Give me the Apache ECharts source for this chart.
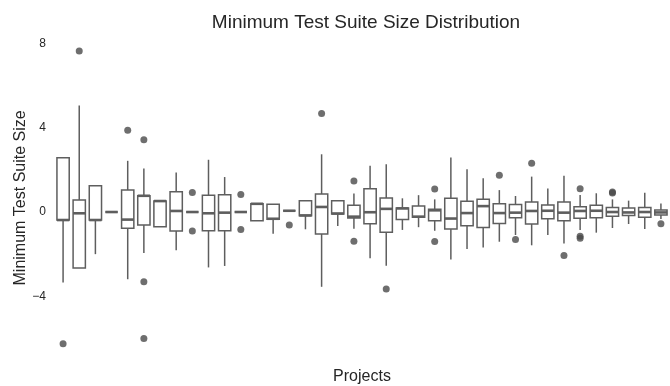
<!DOCTYPE html>
<html>
<head>
<meta charset="utf-8">
<script src="https://cdn.jsdelivr.net/npm/echarts@6/dist/echarts.min.js"></script>
<style>
  html, body { margin: 0; padding: 0; background: #fff; }
  #chart { width: 670px; height: 386px; }
</style>
</head>
<body>
<div id="chart"></div>
<script>
// 每个项目一个箱线，x 轴不显示项目名
const projects = [
  "P01", "P02", "P03", "P04", "P05", "P06", "P07", "P08", "P09", "P10",
  "P11", "P12", "P13", "P14", "P15", "P16", "P17", "P18", "P19", "P20",
  "P21", "P22", "P23", "P24", "P25", "P26", "P27", "P28", "P29", "P30",
  "P31", "P32", "P33", "P34", "P35", "P36", "P37", "P38"
];

// 箱线统计量
const lowWhisker = [
  -3.34, -2.66, -2.0, 0, -3.19, -1.95, -0.70, -1.82, 0, -2.63,
  -2.56, 0, -0.42, -1.03, 0.06, -0.82, -3.55, -0.66, -0.80, -2.2,
  -2.55, -0.85, -0.72, -0.89, -2.25, -1.76, -1.69, -1.41, -1.09, -1.58,
  -1.09, -1.49, -0.85, -0.98, -0.76, -0.57, -0.81, -0.33
];
const q1 = [
  -0.38, -2.66, -0.38, 0, -0.77, -0.62, -0.70, -0.90, 0, -0.89,
  -0.89, 0, -0.42, -0.34, 0.06, -0.18, -1.04, -0.10, -0.28, -0.56,
  -0.96, -0.36, -0.25, -0.41, -0.81, -0.65, -0.73, -0.54, -0.27, -0.57,
  -0.32, -0.41, -0.30, -0.27, -0.20, -0.17, -0.25, -0.14
];
const median = [
  -0.38, -0.06, -0.38, 0, -0.36, 0.77, 0.52, 0.05, 0, -0.06,
  -0.03, 0, 0.39, -0.32, 0.06, -0.16, 0.24, -0.07, -0.22, -0.01,
  0.15, 0.17, -0.22, 0.08, -0.31, -0.05, 0.28, -0.05, -0.03, 0.05,
  0.06, -0.03, 0.05, 0.06, 0.0, -0.02, 0.0, -0.02
];
const q3 = [
  2.58, 0.57, 1.25, 0, 1.04, 0.77, 0.52, 0.96, 0, 0.80,
  0.82, 0, 0.39, 0.37, 0.06, 0.54, 0.85, 0.54, 0.32, 1.11,
  0.66, 0.19, 0.28, 0.13, 0.65, 0.51, 0.60, 0.39, 0.36, 0.47,
  0.33, 0.47, 0.25, 0.32, 0.22, 0.19, 0.22, 0.09
];
const highWhisker = [
  2.58, 5.06, 1.25, 0, 2.43, 2.06, 0.52, 1.88, 0, 2.48,
  1.66, 0, 0.39, 0.37, 0.06, 0.54, 2.74, 0.54, 0.88, 2.2,
  2.27, 0.65, 0.80, 0.60, 2.59, 2.03, 1.60, 1.04, 0.76, 1.68,
  1.12, 1.72, 0.81, 0.89, 0.60, 0.54, 0.92, 0.41
];
// 离群点 [项目序号, 值]
const outliers = [
  [0, -6.25], [1, 7.64], [4, 3.88], [5, 3.43], [5, -3.31], [5, -6.0],
  [8, 0.93], [8, -0.90], [11, 0.83], [11, -0.83], [14, -0.62], [16, 4.67],
  [18, 1.47], [18, -1.39], [20, -3.65], [23, 1.09], [23, -1.40], [27, 1.74],
  [28, -1.3], [29, 2.31], [31, -2.06], [32, 1.11], [32, -1.15], [32, -1.25],
  [34, 0.90], [34, 0.95], [37, -0.56]
];
const yTicks = [-4, 0, 4, 8];

const LINE = "#5e5e5e";
const TEXT = "#262626";
const FONT = "Liberation Sans, Arial, sans-serif";

const boxRows = projects.map((p, i) => [i, lowWhisker[i], q1[i], median[i], q3[i], highWhisker[i]]);

function renderBox(params, api) {
  const i = api.value(0);
  const band = api.size([1, 0])[0];
  const w = band * 0.76;
  const x = api.coord([i, 0])[0];
  const yLw = api.coord([i, api.value(1)])[1];
  const yQ1 = api.coord([i, api.value(2)])[1];
  const yMed = api.coord([i, api.value(3)])[1];
  const yQ3 = api.coord([i, api.value(4)])[1];
  const yHw = api.coord([i, api.value(5)])[1];
  const lineStyle = { stroke: LINE, lineWidth: 1.5, fill: null };
  const children = [];
  if (yLw - yQ1 > 0.5) {
    children.push({ type: "line", shape: { x1: x, y1: yQ1, x2: x, y2: yLw }, style: lineStyle });
  }
  if (yQ3 - yHw > 0.5) {
    children.push({ type: "line", shape: { x1: x, y1: yHw, x2: x, y2: yQ3 }, style: lineStyle });
  }
  children.push({
    type: "rect",
    shape: { x: x - w / 2, y: yQ3, width: w, height: yQ1 - yQ3 },
    style: { stroke: LINE, lineWidth: 1.5, fill: "#fff" }
  });
  children.push({
    type: "line",
    shape: { x1: x - w / 2, y1: yMed, x2: x + w / 2, y2: yMed },
    style: { stroke: LINE, lineWidth: 2.6 }
  });
  return { type: "group", children };
}

const chart = echarts.init(document.getElementById("chart"), null, { renderer: "canvas" });
chart.setOption({
  animation: false,
  backgroundColor: "#fff",
  title: {
    text: "Minimum Test Suite Size Distribution",
    left: 361,
    top: 8,
    textAlign: "center",
    textStyle: { fontFamily: FONT, fontSize: 19, fontWeight: "normal", color: TEXT }
  },
  grid: { left: 55, right: 1, top: 36.3, bottom: 26.5, outerBoundsMode: "none", containLabel: false },
  xAxis: {
    type: "category",
    data: projects,
    name: "Projects",
    nameLocation: "middle",
    nameGap: 9,
    nameTextStyle: { fontFamily: FONT, fontSize: 16, color: TEXT, verticalAlign: "top" },
    axisLine: { show: false },
    axisTick: { show: false },
    axisLabel: { show: false },
    splitLine: { show: false }
  },
  yAxis: {
    type: "value",
    min: -7,
    max: 8.34,
    name: "Minimum Test Suite Size",
    nameLocation: "middle",
    nameGap: 26,
    nameMoveOverlap: false,
    nameTextStyle: { fontFamily: FONT, fontSize: 16, color: TEXT },
    axisLine: { show: false },
    axisTick: { show: false },
    splitLine: { show: false },
    axisLabel: {
      customValues: yTicks,
      margin: 9,
      fontFamily: FONT,
      fontSize: 12,
      color: TEXT,
      formatter: (v) => String(v).replace("-", "\u2212")
    }
  },
  series: [
    {
      type: "custom",
      renderItem: renderBox,
      data: boxRows,
      encode: { x: 0, y: [1, 2, 3, 4, 5] },
      z: 2
    },
    {
      type: "scatter",
      data: outliers,
      symbol: "circle",
      symbolSize: 7,
      itemStyle: { color: "#4a4a4a" },
      z: 3
    }
  ]
});
</script>
</body>
</html>
